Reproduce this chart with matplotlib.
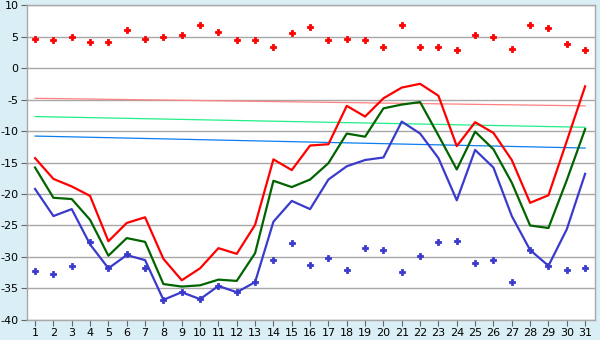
import matplotlib
matplotlib.use("Agg")
import matplotlib.pyplot as plt
import numpy as np

BG = "#d9eef5"
GRID = "#a8a8a8"

days = np.arange(1, 32)

# daily max / mean / min lines
t_max = [-14.3, -17.6, -18.8, -20.3, -27.5, -24.6, -23.7, -30.3, -33.7, -31.8,
         -28.6, -29.5, -24.9, -14.5, -16.2, -12.3, -12.1, -6.0, -7.7, -4.8,
         -3.1, -2.5, -4.4, -12.4, -8.6, -10.3, -14.6, -21.4, -20.2, -11.6, -2.9]
t_avg = [-15.8, -20.6, -20.8, -24.1, -29.8, -27.0, -27.6, -34.3, -34.7, -34.5,
         -33.6, -33.8, -29.4, -17.9, -18.9, -17.7, -15.1, -10.4, -10.9, -6.4,
         -5.8, -5.4, -10.7, -16.1, -10.1, -12.9, -18.2, -25.0, -25.4, -17.8, -9.7]
t_min = [-19.2, -23.5, -22.4, -28.0, -31.8, -29.7, -30.5, -36.8, -35.6, -36.7,
         -34.6, -35.6, -34.0, -24.4, -21.1, -22.4, -17.7, -15.6, -14.6, -14.2,
         -8.5, -10.4, -14.3, -21.0, -13.0, -15.8, -23.5, -28.9, -31.4, -25.6, -16.8]

# record points (upper red, lower blue)
rec_high = [4.6, 4.4, 4.9, 4.1, 4.1, 6.0, 4.6, 4.9, 5.2, 6.8,
            5.7, 4.4, 4.4, 3.3, 5.5, 6.5, 4.4, 4.6, 4.4, 3.3,
            6.9, 3.3, 3.3, 2.8, 5.2, 4.9, 3.1, 6.9, 6.3, 3.8, 2.8]
rec_low = [-32.2, -32.7, -31.4, -27.6, -31.8, -29.6, -31.7, -36.8, -35.6, -36.7,
           -34.6, -35.6, -34.0, -30.5, -27.8, -31.2, -30.2, -32.1, -28.6, -28.9,
           -32.4, -29.8, -27.7, -27.5, -30.9, -30.5, -33.9, -28.9, -31.4, -32.0, -31.8]

# straight trend lines: value at day 1 and day 31
trend_x = [1, 31]
trend_max = [-4.8, -6.0]
trend_avg = [-7.7, -9.4]
trend_min = [-10.8, -12.7]

plt.rcParams["axes.unicode_minus"] = False
fig = plt.figure(figsize=(6, 3.4), dpi=100, facecolor=BG)
ax = fig.add_axes([0.045, 0.059, 0.947, 0.926])
ax.set_facecolor("white")

ax.plot(trend_x, trend_max, color="#ff8080", lw=0.9, zorder=2)
ax.plot(trend_x, trend_avg, color="#22ee88", lw=0.9, zorder=2)
ax.plot(trend_x, trend_min, color="#0a7ef0", lw=0.9, zorder=2)

ax.plot(days, t_max, color="#ff0000", lw=1.6, zorder=3)
ax.plot(days, t_avg, color="#006400", lw=1.6, zorder=3)
ax.plot(days, t_min, color="#3a3acc", lw=1.6, zorder=3)

ax.plot(days, rec_high, ls="none", marker="P", ms=4.2, color="#ff0000",
        markeredgewidth=0.6, zorder=4)
ax.plot(days, rec_low, ls="none", marker="P", ms=4.2, color="#3a3acc",
        markeredgewidth=0.6, zorder=4)

ax.set_xlim(0.56, 31.55)
ax.set_ylim(-40, 10)
ax.set_yticks(np.arange(-40, 11, 5))
ax.set_xticks(days)
ax.grid(True, axis="y", color=GRID, lw=1.0, zorder=0)
for s in ax.spines.values():
    s.set_color(GRID)
    s.set_linewidth(1.0)
ax.tick_params(axis="both", labelsize=8, length=4, width=0.8, pad=2,
               labelcolor="#000000", color="#666666")
ax.tick_params(axis="x", direction="out")

fig.savefig("out.png", dpi=100, facecolor=BG)
